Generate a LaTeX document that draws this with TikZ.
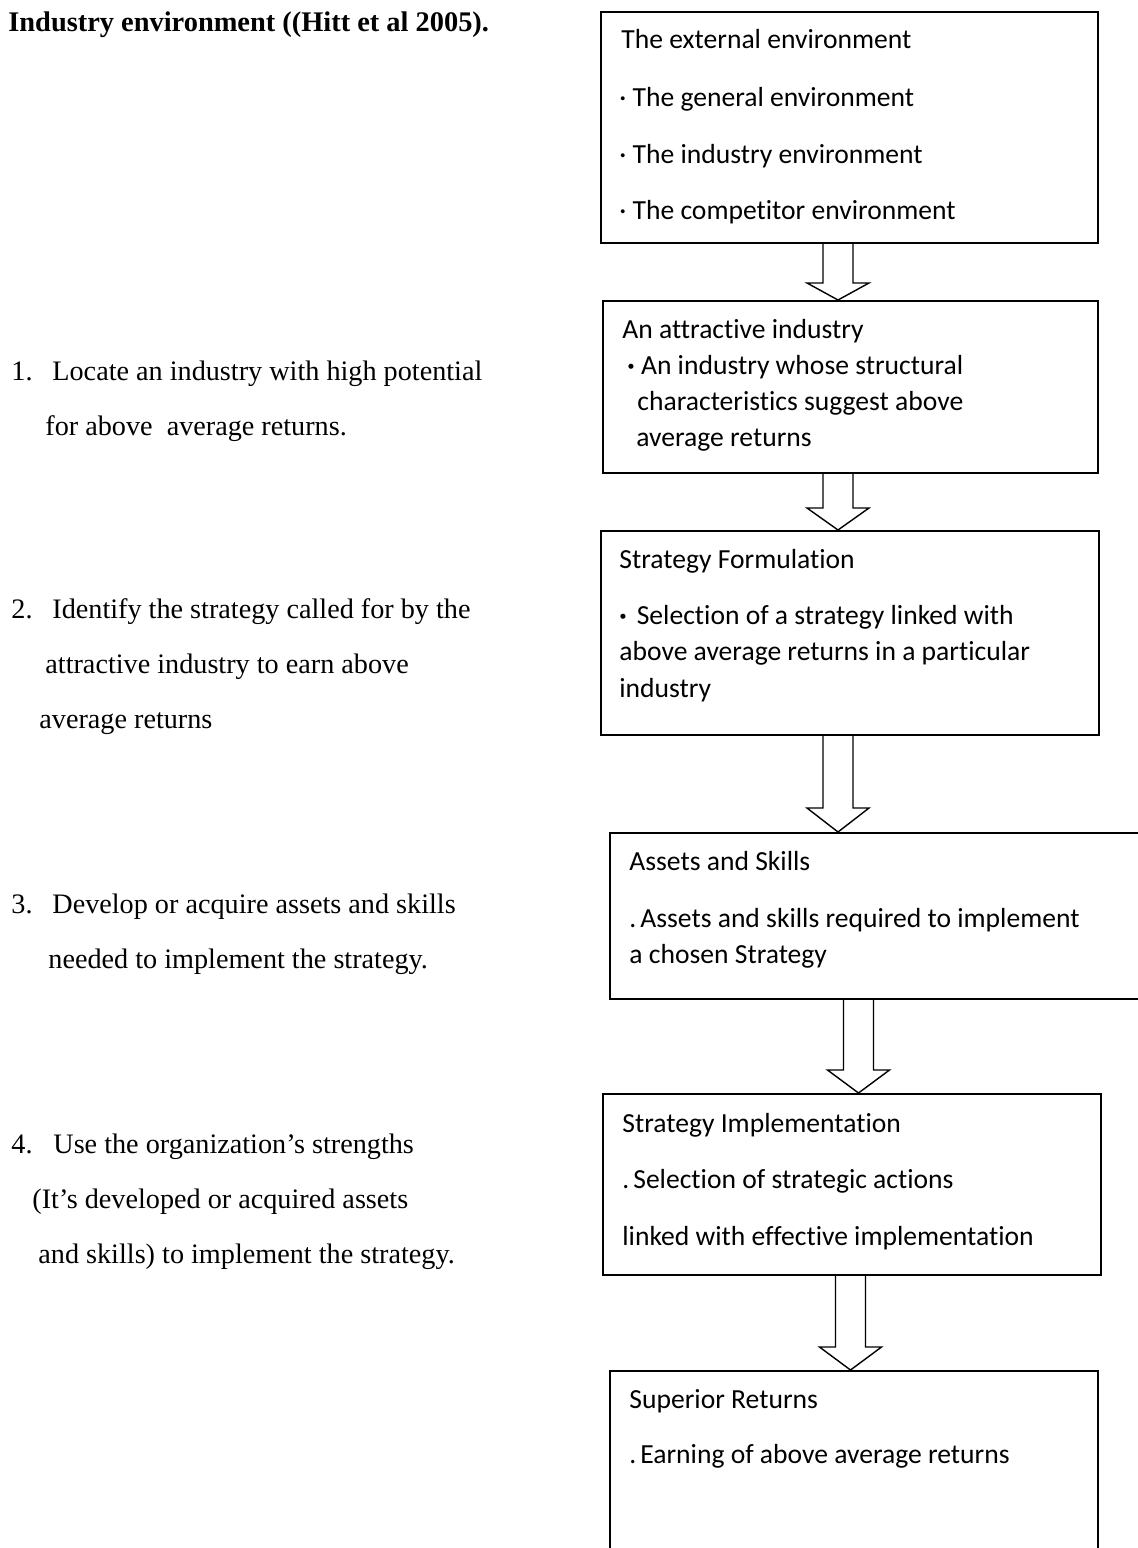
\documentclass[tikz,border=0pt]{standalone}
\usepackage{fontspec}
\setmainfont{Liberation Serif}
\newfontfamily\boxfont[Ligatures=NoCommon]{Carlito}
\usepackage{tikz}

\begin{document}
\begin{tikzpicture}[x=0.5pt,y=-0.5pt]
\tikzstyle{box}=[draw,line width=0.9pt,shape=rectangle,anchor=north west,inner sep=0pt]
\tikzstyle{boxtext}=[anchor=base west,inner sep=0pt,font=\boxfont\fontsize{13.8}{16}\selectfont]
\tikzstyle{item}=[anchor=base west,inner sep=0pt,font=\fontsize{14.1}{17}\selectfont]
\tikzstyle{blockarrow}=[line width=0.7pt,line join=miter]
\useasboundingbox (0,0) rectangle (1137,1548);

% left column
\path (8,31) node[item,font=\bfseries\fontsize{14.2}{17}\selectfont](title){Industry environment ((Hitt et al 2005).};
\foreach \n/\y in {1/380,2/618,3/913,4/1153}
  \path (11,\y) node[item](n\n){\n.};
\foreach \x/\y/\t in {52/380/{Locate an industry with high potential},
    45/435/{for above\ \ average returns.},
    52/618/{Identify the strategy called for by the},
    45/673/{attractive industry to earn above},
    39/728/{average returns},
    52/913/{Develop or acquire assets and skills},
    48/968/{needed to implement the strategy.},
    53/1153/{Use the organization’s strengths},
    32/1208/{(It’s developed or acquired assets},
    38/1263/{and skills) to implement the strategy.}}
  \path (\x,\y) node[item](q\y){\t};

% boxes
\path (600,11) node[box,minimum width=248.5pt,minimum height=115.5pt](ext){};
\path (602,300) node[box,minimum width=247.5pt,minimum height=86pt](attr){};
\path (600,530) node[box,minimum width=249pt,minimum height=102pt](form){};
\path (609,832) node[box,minimum width=280pt,minimum height=83pt](asset){};
\path (602,1093) node[box,minimum width=249pt,minimum height=90.5pt](impl){};
\path (609,1370) node[box,minimum width=244pt,minimum height=110pt](sup){};

% box texts
\foreach \x/\y/\t in {621/48/{The external environment},
    619/106/{\textperiodcentered\ The general environment},
    619/163/{\textperiodcentered\ The industry environment},
    619/219/{\textperiodcentered\ The competitor environment},
    622/338/{An attractive industry},
    627/374/{{\bfseries ·}\ An industry whose structural},
    637/410/{characteristics suggest above},
    636/446/{average returns},
    619/568/{Strategy Formulation},
    619/624/{{\bfseries ·}\hspace{5pt}Selection of a strategy linked with},
    619/660/{above average returns in a particular},
    619/697/{industry},
    629/870/{Assets and Skills},
    629/927/{.\hspace{2pt}Assets and skills required to implement},
    629/963/{a chosen Strategy},
    622/1132/{Strategy Implementation},
    622/1188/{.\hspace{2pt}Selection of strategic actions},
    622/1245/{linked with effective implementation},
    629/1408/{Superior Returns},
    629/1463/{.\hspace{2pt}Earning of above average returns}}
  \path (\x,\y) node[boxtext](e\y){\t};

% hollow arrows between boxes
\foreach \u/\l/\x/\h in {ext/attr/838/8.5pt,attr/form/838/11pt,form/asset/838/12pt,asset/impl/858.5/11.5pt,impl/sup/850.5/11.5pt}{
  \coordinate (m) at (\x,0);
  \draw[blockarrow] ([xshift=-7.5pt]m |- \u.south) -- ([xshift=-7.5pt,yshift=\h]m |- \l.north)
    -- ([xshift=-15.5pt,yshift=\h]m |- \l.north) -- (m |- \l.north)
    -- ([xshift=15.5pt,yshift=\h]m |- \l.north) -- ([xshift=7.5pt,yshift=\h]m |- \l.north)
    -- ([xshift=7.5pt]m |- \u.south);
}
\end{tikzpicture}
\end{document}
